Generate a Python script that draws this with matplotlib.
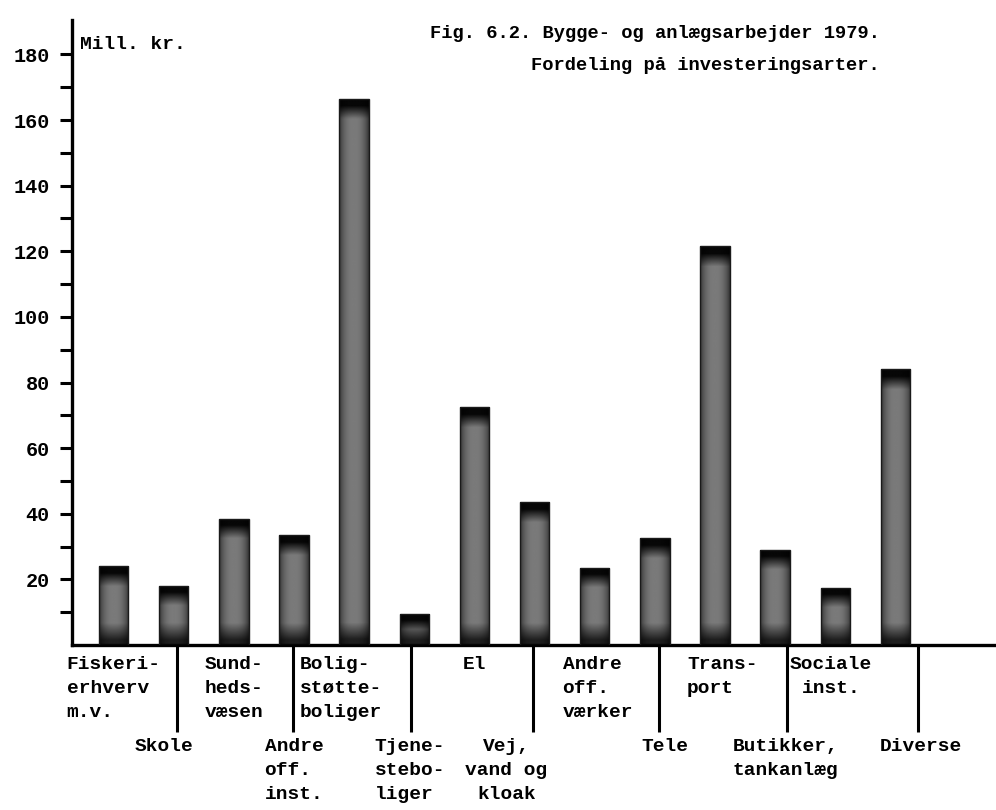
import numpy as np
import matplotlib
matplotlib.use("Agg")
import matplotlib.pyplot as plt

# ---------------- data ----------------
categories = ["Fiskeri-\nerhverv\nm.v.", "Skole", "Sund-\nheds-\nvæsen",
              "Andre\noff.\ninst.", "Bolig-\nstøtte-\nboliger",
              "Tjene-\nstebo-\nliger", "El", "Vej,\nvand og\nkloak",
              "Andre\noff.\nværker", "Tele", "Trans-\nport",
              "Butikker,\ntankanlæg", "Sociale\ninst.", "Diverse"]
values = [24, 18, 38.5, 33.5, 166.5, 9.5, 72.5, 43.5, 23.5, 32.5, 121.5, 29, 17.5, 84]
major_ticks = [20, 40, 60, 80, 100, 120, 140, 160, 180]
minor_ticks = [10, 30, 50, 70, 90, 110, 130, 150, 170]
title_lines = ["Fig. 6.2. Bygge- og anlægsarbejder 1979.",
               "Fordeling på investeringsarter."]
unit_label = "Mill. kr."

# ---------------- layout ----------------
label_dx = [0, -0.16, 0, 0, -0.22, -0.07, 0, -0.47, 0.05, 0.17, 0.12, 0.17, -0.07, 0.42]
label_malign = ["left", "left", "left", "left", "left", "left", "left", "center",
                "left", "left", "left", "center", "center", "left"]
divider_dx = [0.06, -0.02, -0.05, -0.03, 0.07, 0.2, 0.38]
FONT = ["Liberation Mono", "DejaVu Sans Mono"]
plt.rcParams["font.family"] = FONT
plt.rcParams["font.weight"] = "bold"

fig = plt.figure(figsize=(9.96, 8.1), dpi=100)
ax = fig.add_axes([72 / 996, 1 - 645 / 810, 1 - 72 / 996, 625 / 810])
ax.set_xlim(-0.69, 14.67)
ax.set_ylim(0, 190.5)

px_per_unit = 3.28
x = np.arange(len(values))
bar_w = 0.49
bars = ax.bar(x, values, width=bar_w, facecolor="none", edgecolor="#1a1a1a",
              linewidth=1.0, zorder=3)

base = 0.48
for rect, h in zip(bars, values):
    n = 400
    yy = np.linspace(h, 0, n)  # top to bottom rows
    d_top = (h - yy) * px_per_unit
    d_bot = yy * px_per_unit
    top = np.where(d_top < 7, 0.03, np.where(d_top < 20, 0.03 + (base - 0.03) * (d_top - 7) / 13, base))
    bot = np.where(d_bot < 5, 0.12, np.where(d_bot < 22, 0.12 + (base - 0.12) * (d_bot - 5) / 17, base))
    v = np.minimum(top, bot)
    cols = np.linspace(-1, 1, 40)
    hprof = 1 - 0.55 * np.abs(cols) ** 2.5
    img = np.outer(v, hprof)
    x0 = rect.get_x()
    im = ax.imshow(img, cmap="gray", vmin=0, vmax=1, aspect="auto",
                   extent=(x0, x0 + rect.get_width(), 0, h), zorder=2,
                   interpolation="bilinear")
    im.set_clip_path(rect)

ax.set_xlim(-0.69, 14.67)
ax.set_ylim(0, 190.5)

for s in ["top", "right"]:
    ax.spines[s].set_visible(False)
ax.spines["left"].set_linewidth(2.4)
ax.spines["bottom"].set_linewidth(2.4)
ax.set_xticks([])
ax.set_yticks(major_ticks)
ax.set_yticks(minor_ticks, minor=True)
ax.tick_params(axis="y", which="both", direction="out", length=9, width=2.2, color="black")
ax.tick_params(axis="y", which="major", labelsize=14.5, pad=7)
for t in ax.get_yticklabels():
    t.set_fontweight("bold")

ax.text(-0.55, 183, unit_label, fontsize=14, fontweight="bold", ha="left", va="center")

# labels and dividers
upper_y = -(656 - 645) / px_per_unit
lower_y = -(738 - 645) / px_per_unit
div_end = -(732 - 645) / px_per_unit
for i, (lab, dx, ma) in enumerate(zip(categories, label_dx, label_malign)):
    if i % 2 == 0:
        ty = upper_y
    else:
        ty = lower_y
        xd = i + divider_dx[i // 2]
        ax.plot([xd, xd], [0, div_end], color="black", lw=2.2,
                clip_on=False, solid_capstyle="butt")
    ax.text(i + dx, ty, lab, ha="center", va="top", multialignment=ma,
            fontsize=14, fontweight="bold", linespacing=1.55, clip_on=False)

fig.text(880 / 996, 1 - 33 / 810, title_lines[0], ha="right", va="center",
         fontsize=13.5, fontweight="bold")
fig.text(880 / 996, 1 - 65 / 810, title_lines[1], ha="right", va="center",
         fontsize=13.5, fontweight="bold")

fig.savefig("out.png", dpi=100)
